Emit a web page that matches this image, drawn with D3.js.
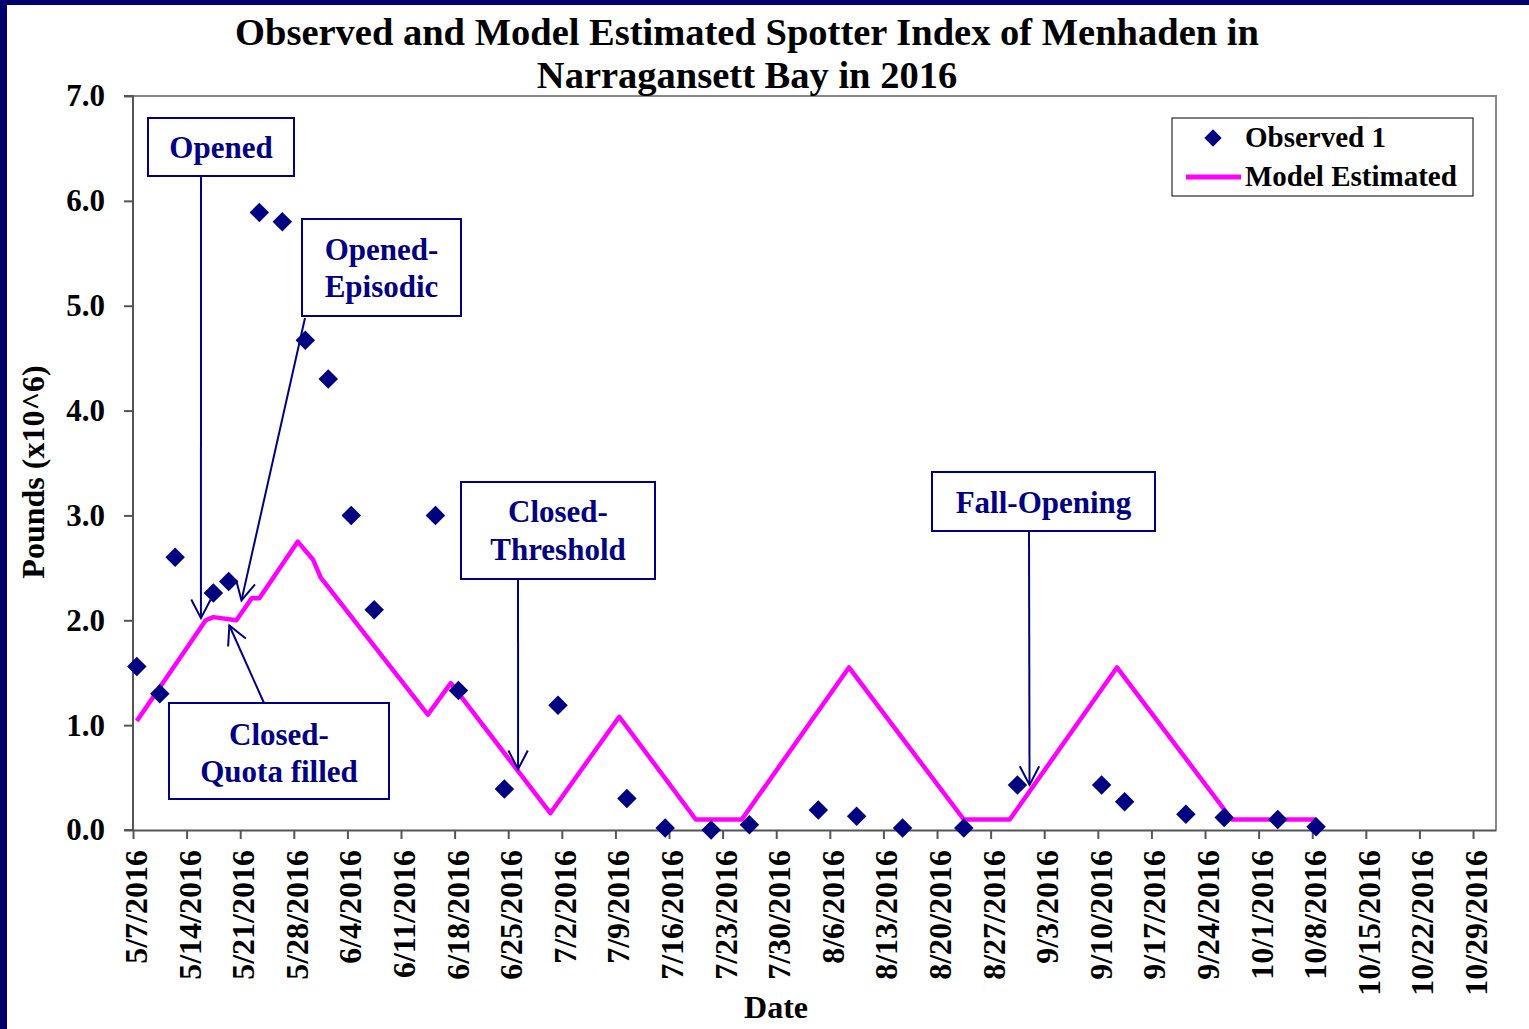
<!DOCTYPE html>
<html>
<head>
<meta charset="utf-8">
<script src="https://cdn.jsdelivr.net/npm/d3@7"></script>
<style>
  body { margin: 0; background: #fff; }
  svg { display: block; font-family: "Liberation Serif", "Times New Roman", serif; font-weight: bold; }
</style>
</head>
<body>
<script>
// Observed spotter index (pounds x10^6)
const obsDates = ["5/7/2016", "5/10/2016", "5/12/2016", "5/17/2016", "5/19/2016", "5/23/2016",
  "5/26/2016", "5/29/2016", "6/1/2016", "6/4/2016", "6/7/2016", "6/15/2016", "6/18/2016",
  "6/24/2016", "7/1/2016", "7/10/2016", "7/15/2016", "7/21/2016", "7/26/2016", "8/4/2016",
  "8/9/2016", "8/15/2016", "8/23/2016", "8/30/2016", "9/10/2016", "9/13/2016", "9/21/2016",
  "9/26/2016", "10/3/2016", "10/8/2016"];
const obsValues = [1.56, 1.30, 2.60, 2.26, 2.37, 5.89, 5.80, 4.67, 4.30, 3.00, 2.10, 3.00, 1.33,
  0.39, 1.19, 0.30, 0.02, 0.00, 0.05, 0.19, 0.13, 0.02, 0.02, 0.43, 0.43, 0.27, 0.15, 0.12, 0.10, 0.03];

// Model estimated index (vertices of the line)
const modelDates = ["5/7/2016", "5/16/2016", "5/17/2016", "5/20/2016", "5/22/2016", "5/23/2016",
  "5/28/2016", "5/30/2016", "5/31/2016", "6/14/2016", "6/17/2016", "6/30/2016", "7/9/2016",
  "7/19/2016", "7/25/2016", "8/8/2016", "8/23/2016", "8/29/2016", "9/12/2016", "9/27/2016", "10/8/2016"];
const modelValues = [1.04, 2.00, 2.03, 2.00, 2.21, 2.21, 2.75, 2.58, 2.41, 1.10, 1.40, 0.16, 1.08,
  0.10, 0.10, 1.55, 0.10, 0.10, 1.55, 0.10, 0.10];

const yTicks = [0, 1, 2, 3, 4, 5, 6, 7];
const firstTick = "5/7/2016", lastTick = "10/29/2016", axisEnd = "11/1/2016";

// annotation boxes: text lines, box [x, y, w, h], arrow start (px), arrow tip [days from 5/7, value]
const notes = [
  { lines: ["Opened"], box: [148, 118, 146, 58], from: [201, 176], tip: [8.9, 2.02], base: [158] },
  { lines: ["Opened-", "Episodic"], box: [302, 219, 159, 97], from: [305, 318], tip: [14.2, 2.19], base: [260, 297] },
  { lines: ["Closed-", "Quota filled"], box: [169, 703, 220, 96], from: [264, 703], tip: [12.6, 1.95], base: [745, 782] },
  { lines: ["Closed-", "Threshold"], box: [461, 482, 194, 97], from: [518, 579], tip: [50.3, 0.58], base: [522, 560] },
  { lines: ["Fall-Opening"], box: [932, 472, 223, 59], from: [1029, 531], tip: [117.1, 0.43], base: [513] }
];

const W = 1529, H = 1029;
const navy = "#000080", magenta = "#ff00ff";
const plot = { left: 133, right: 1496, top: 96, bottom: 830 };
const parse = d3.timeParse("%m/%d/%Y");
const fmt = d3.timeFormat("%-m/%-d/%Y");

const x = d3.scaleTime()
  .domain([parse(firstTick), parse(axisEnd)])
  .range([plot.left, plot.right]);
const y = d3.scaleLinear()
  .domain([0, 7])
  .range([plot.bottom, plot.top]);

// points sit in the middle of their day
const xMid = d => x(d3.timeHour.offset(d, 12));

const observed = obsDates.map((d, i) => ({ date: parse(d), value: obsValues[i] }));
const model = modelDates.map((d, i) => ({ date: parse(d), value: modelValues[i] }));

const svg = d3.select("body").append("svg")
  .attr("width", W)
  .attr("height", H);

svg.append("rect").attr("width", W).attr("height", H).attr("fill", "#fff");

// navy frame on the left and top
svg.append("rect").attr("x", 0).attr("y", 0).attr("width", 7).attr("height", H).attr("fill", "#00006e");
svg.append("rect").attr("x", 0).attr("y", 0).attr("width", W).attr("height", 5).attr("fill", "#00006e");

// plot frame (top and right)
svg.append("path")
  .attr("d", `M${plot.left},${plot.top}H${plot.right}V${plot.bottom}`)
  .attr("fill", "none")
  .attr("stroke", "#888")
  .attr("stroke-width", 2);

// y axis
const yAxis = svg.append("g")
  .attr("transform", `translate(${plot.left},0)`)
  .call(d3.axisLeft(y).tickValues(yTicks).tickSize(9).tickPadding(19).tickFormat(d3.format(".1f")));
yAxis.attr("font-family", null).attr("font-size", 31);
yAxis.selectAll("text").attr("fill", "#000");

// x axis
const xTicks = d3.timeDay.range(parse(firstTick), d3.timeDay.offset(parse(lastTick), 1), 7);
const xAxis = svg.append("g")
  .attr("transform", `translate(0,${plot.bottom})`)
  .call(d3.axisBottom(x).tickValues(xTicks).tickSize(9).tickSizeOuter(0).tickFormat(fmt));
xAxis.attr("font-family", null).attr("font-size", 32);
xAxis.selectAll("text")
  .attr("fill", "#000")
  .attr("text-anchor", "end")
  .attr("transform", "translate(0,20) rotate(-90)")
  .attr("x", 0)
  .attr("y", 0)
  .attr("dy", "0.42em");

svg.selectAll(".domain, .tick line").attr("stroke", "#555").attr("stroke-width", 2);
yAxis.select(".domain").attr("d", `M-9,${plot.top}H0V${plot.bottom}H-9`);

// model line
svg.append("path")
  .datum(model)
  .attr("fill", "none")
  .attr("stroke", magenta)
  .attr("stroke-width", 4.5)
  .attr("stroke-linejoin", "round")
  .attr("d", d3.line().x(d => xMid(d.date)).y(d => y(d.value)));

// observed diamonds
const diamond = d3.symbol().type(d3.symbolSquare).size(190);
svg.append("g")
  .selectAll("path")
  .data(observed)
  .join("path")
  .attr("fill", navy)
  .attr("d", diamond)
  .attr("transform", d => `translate(${xMid(d.date)},${y(d.value)}) rotate(45)`);

// annotations
const ann = svg.append("g");
notes.forEach(n => {
  const [bx, by, bw, bh] = n.box;
  ann.append("rect")
    .attr("x", bx).attr("y", by).attr("width", bw).attr("height", bh)
    .attr("fill", "#fff").attr("stroke", navy).attr("stroke-width", 2);
  n.lines.forEach((t, i) => {
    ann.append("text")
      .attr("x", bx + bw / 2)
      .attr("y", n.base[i])
      .attr("text-anchor", "middle")
      .attr("font-size", 31)
      .attr("fill", navy)
      .text(t);
  });
  const tx = x(d3.timeHour.offset(parse(firstTick), n.tip[0] * 24));
  const ty = y(n.tip[1]);
  const [fx, fy] = n.from;
  ann.append("line")
    .attr("x1", fx).attr("y1", fy).attr("x2", tx).attr("y2", ty)
    .attr("stroke", navy).attr("stroke-width", 2);
  const ang = Math.atan2(fy - ty, fx - tx), len = 21, spread = 0.48;
  const p1 = [tx + len * Math.cos(ang + spread), ty + len * Math.sin(ang + spread)];
  const p2 = [tx + len * Math.cos(ang - spread), ty + len * Math.sin(ang - spread)];
  ann.append("path")
    .attr("d", `M${p1}L${tx},${ty}L${p2}`)
    .attr("fill", "none").attr("stroke", navy).attr("stroke-width", 2);
});

// legend
const lg = svg.append("g");
lg.append("rect")
  .attr("x", 1172).attr("y", 118).attr("width", 301).attr("height", 78)
  .attr("fill", "#fff").attr("stroke", "#000").attr("stroke-width", 1);
lg.append("path")
  .attr("d", d3.symbol().type(d3.symbolSquare).size(150))
  .attr("transform", "translate(1213,138) rotate(45)")
  .attr("fill", navy);
lg.append("line")
  .attr("x1", 1186).attr("x2", 1241).attr("y1", 177).attr("y2", 177)
  .attr("stroke", magenta).attr("stroke-width", 5);
lg.append("text").attr("x", 1245).attr("y", 147).attr("font-size", 29).text("Observed 1");
lg.append("text").attr("x", 1245).attr("y", 186).attr("font-size", 29).text("Model Estimated");

// titles
svg.append("text")
  .attr("x", 747).attr("y", 45)
  .attr("text-anchor", "middle").attr("font-size", 38.5)
  .text("Observed and Model Estimated Spotter Index of Menhaden in");
svg.append("text")
  .attr("x", 747).attr("y", 88)
  .attr("text-anchor", "middle").attr("font-size", 38.5)
  .text("Narragansett Bay in 2016");

svg.append("text")
  .attr("transform", "translate(44,472) rotate(-90)")
  .attr("text-anchor", "middle").attr("font-size", 32)
  .text("Pounds (x10^6)");

svg.append("text")
  .attr("x", 776).attr("y", 1018)
  .attr("text-anchor", "middle").attr("font-size", 32)
  .text("Date");
</script>
</body>
</html>
